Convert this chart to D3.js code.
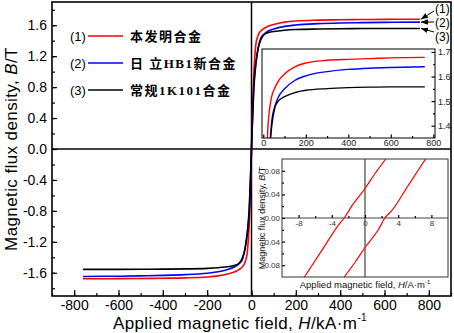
<!DOCTYPE html>
<meta charset="utf-8">
<style>
body { margin: 0; background: #fff; }
svg { display: block; font-family: Arial, "Liberation Sans", sans-serif; }
</style>
<svg width="454" height="333"></svg>
<script src="https://d3js.org/d3.v7.min.js"></script>
<script>

// applied field H (kA/m) and flux density B (T) of the three alloys
var field = [-760, -600, -500, -400, -300, -200, -150, -100, -70, -55, -40, -30, -20, -15, -10, -5,
             0, 5, 10, 15, 20, 30, 40, 55, 70, 100, 150, 200, 300, 400, 500, 600, 760];
var bInvention = [-1.678, -1.676, -1.673, -1.670, -1.666, -1.655, -1.64, -1.61, -1.58, -1.555, -1.52, -1.47, -1.36, -1.2, -0.95, -0.55,
                  0, 0.55, 0.95, 1.2, 1.36, 1.47, 1.52, 1.555, 1.58, 1.61, 1.64, 1.655, 1.666, 1.670, 1.673, 1.676, 1.678];
var bHitachi = [-1.647, -1.644, -1.64, -1.634, -1.624, -1.605, -1.587, -1.55, -1.515, -1.48, -1.42, -1.3, -1.1, -0.95, -0.75, -0.4,
                0, 0.4, 0.75, 0.95, 1.1, 1.3, 1.42, 1.48, 1.515, 1.55, 1.585, 1.603, 1.62, 1.629, 1.634, 1.637, 1.640];
var bConventional = [-1.556, -1.556, -1.555, -1.553, -1.55, -1.543, -1.534, -1.518, -1.50, -1.475, -1.40, -1.3, -1.12, -1.0, -0.8, -0.45,
                     0, 0.45, 0.8, 1.0, 1.12, 1.3, 1.40, 1.475, 1.50, 1.518, 1.535, 1.544, 1.551, 1.555, 1.557, 1.558, 1.558];

var legendNames = ["本发明合金", "日 立HB1新合金", "常规1K101合金"];
var legendTags = ["(1)", "(2)", "(3)"];
var colors = ["#ff0000", "#0000ff", "#000000"];

// hysteresis loop of alloy (1) near the origin, H in A/m
var loopUpH = [-7.3, -5.2, -3.2, -2.5, -1.6, 0, 1.2, 2.5];
var loopUpB = [-0.1, -0.055, -0.012, 0, 0.02, 0.05, 0.075, 0.1];
var loopDownH = [-2.5, -1.2, 0, 1.6, 2.4, 3.2, 5.2, 7.3];
var loopDownB = [-0.1, -0.075, -0.05, -0.02, 0, 0.012, 0.055, 0.1];

var mainXTicks = [-800, -600, -400, -200, 0, 200, 400, 600, 800];
var mainYTicks = [-1.6, -1.2, -0.8, -0.4, 0, 0.4, 0.8, 1.2, 1.6];
var inset1XTicks = [0, 200, 400, 600, 800];
var inset1YTicks = [1.4, 1.5, 1.6, 1.7];
var inset2XTicks = [-8, -4, 0, 4, 8];
var inset2YTicks = [-0.08, -0.04, 0, 0.04, 0.08];

var svg = d3.select("svg");
var allB = [bInvention, bHitachi, bConventional];
var series = allB.map(function(b) {
  return field.map(function(h, i) { return [h, b[i]]; });
});

// ---- main plot ----
var x = d3.scaleLinear().domain([-900, 900]).range([52, 451]);
var y = d3.scaleLinear().domain([-1.9, 1.9]).range([296, 2]);

svg.append("clipPath").attr("id", "clipMain")
  .append("rect").attr("x", 52).attr("y", 2).attr("width", 399).attr("height", 294);

var line = d3.line().x(function(d) { return x(d[0]); }).y(function(d) { return y(d[1]); })
    .curve(d3.curveMonotoneX);

svg.append("line").attr("x1", 52).attr("x2", 451).attr("y1", y(0)).attr("y2", y(0))
    .attr("stroke", "#000").attr("stroke-width", 1.5);
svg.append("line").attr("x1", x(0)).attr("x2", x(0)).attr("y1", 2).attr("y2", 296)
    .attr("stroke", "#000").attr("stroke-width", 1.5);

svg.append("g").attr("clip-path", "url(#clipMain)")
  .selectAll("path").data(series).enter().append("path")
    .attr("d", line)
    .attr("fill", "none")
    .attr("stroke", function(d, i) { return colors[i]; })
    .attr("stroke-width", 1.6);

function styleAxis(g) {
  g.select(".domain").remove();
  g.selectAll(".tick line").attr("stroke", "#000").attr("stroke-width", 1.2);
}

svg.append("g").attr("transform", "translate(0,296)")
    .call(d3.axisBottom(x).tickValues(d3.range(-900, 901, 100)).tickSize(-3).tickFormat(""))
    .call(styleAxis);
svg.append("g").attr("transform", "translate(0,296)")
    .call(d3.axisBottom(x).tickValues(mainXTicks).tickSize(-6).tickPadding(4)
      .tickFormat(function(d) { return String(d); }))
    .call(styleAxis)
    .selectAll("text").attr("font-size", 14).attr("fill", "#000");

svg.append("g").attr("transform", "translate(52,0)")
    .call(d3.axisLeft(y).tickValues(d3.range(-18, 19, 2).map(function(v) { return v / 10; })).tickSize(-3).tickFormat(""))
    .call(styleAxis);
svg.append("g").attr("transform", "translate(52,0)")
    .call(d3.axisLeft(y).tickValues(mainYTicks).tickSize(-5).tickPadding(5)
      .tickFormat(function(d) { return d.toFixed(1); }))
    .call(styleAxis)
    .selectAll("text").attr("font-size", 14).attr("fill", "#000");

svg.append("rect").attr("x", 52).attr("y", 2).attr("width", 399).attr("height", 294)
    .attr("fill", "none").attr("stroke", "#000").attr("stroke-width", 1.6);

var xTitle = svg.append("text").attr("x", 240).attr("y", 329).attr("text-anchor", "middle")
    .attr("font-size", 17).attr("letter-spacing", 0.4);
xTitle.append("tspan").text("Applied magnetic field, ");
xTitle.append("tspan").attr("font-style", "italic").text("H");
xTitle.append("tspan").text("/kA·m");
xTitle.append("tspan").attr("font-size", 10).attr("dy", -8).text("-1");

var yTitle = svg.append("text").attr("transform", "translate(17,149) rotate(-90)")
    .attr("text-anchor", "middle").attr("font-size", 17).attr("letter-spacing", 0.4);
yTitle.append("tspan").text("Magnetic flux density, ");
yTitle.append("tspan").attr("font-style", "italic").text("B");
yTitle.append("tspan").text("/T");

// legend
var legend = svg.append("g");
legendNames.forEach(function(name, i) {
  var ly = 36 + i * 27;
  legend.append("text").attr("x", 70).attr("y", ly + 5).attr("font-size", 13).text(legendTags[i]);
  legend.append("line").attr("x1", 88).attr("x2", 123).attr("y1", ly).attr("y2", ly)
      .attr("stroke", colors[i]).attr("stroke-width", 1.6);
  legend.append("text").attr("x", 130).attr("y", ly + 5)
      .attr("font-family", "'Liberation Serif', 'Noto Sans CJK SC', serif")
      .attr("font-weight", "bold").attr("font-size", 13).attr("letter-spacing", 1.5)
      .text(name);
});

// arrows to the curve ends
svg.append("defs").append("marker").attr("id", "arrowHead")
    .attr("viewBox", "0 0 10 10").attr("refX", 10).attr("refY", 5)
    .attr("markerWidth", 7).attr("markerHeight", 7).attr("orient", "auto")
  .append("path").attr("d", "M0,1L10,5L0,9Z").attr("fill", "#000");
var tagY = [8, 22, 36];
allB.forEach(function(b, i) {
  var ex = x(field[field.length - 1]) + 1, ey = y(b[b.length - 1]);
  svg.append("line").attr("x1", 434).attr("y1", tagY[i] + (i === 0 ? 3 : i === 2 ? -4 : 0))
      .attr("x2", ex).attr("y2", ey)
      .attr("stroke", "#000").attr("stroke-width", 1).attr("marker-end", "url(#arrowHead)");
  svg.append("text").attr("x", 435).attr("y", tagY[i] + 4.5).attr("font-size", 12).text(legendTags[i]);
});

// ---- inset 1: saturation region ----
var x1 = d3.scaleLinear().domain([-6, 808]).range([262, 435]);
var y1 = d3.scaleLinear().domain([1.35, 1.712]).range([138, 49]);
svg.append("clipPath").attr("id", "clipIn1")
  .append("rect").attr("x", 262).attr("y", 49).attr("width", 173).attr("height", 89);
svg.append("rect").attr("x", 262).attr("y", 49).attr("width", 173).attr("height", 89).attr("fill", "#fff");
var line1 = d3.line().x(function(d) { return x1(d[0]); }).y(function(d) { return y1(d[1]); })
    .curve(d3.curveMonotoneX);
svg.append("g").attr("clip-path", "url(#clipIn1)")
  .selectAll("path").data(series.map(function(s) { return s.filter(function(d) { return d[0] >= 0; }); }))
  .enter().append("path")
    .attr("d", line1).attr("fill", "none")
    .attr("stroke", function(d, i) { return colors[i]; }).attr("stroke-width", 1.4);
svg.append("g").attr("transform", "translate(0,138)")
    .call(d3.axisBottom(x1).tickValues(d3.range(100, 800, 200)).tickSize(-2).tickFormat(""))
    .call(styleAxis);
svg.append("g").attr("transform", "translate(0,138)")
    .call(d3.axisBottom(x1).tickValues(inset1XTicks).tickSize(-3.5).tickPadding(2)
      .tickFormat(function(d) { return String(d); }))
    .call(styleAxis)
    .selectAll("text").attr("font-size", 9).attr("fill", "#222");
svg.append("g").attr("transform", "translate(435,0)")
    .call(d3.axisRight(y1).tickValues([1.45, 1.55, 1.65]).tickSize(-2).tickFormat(""))
    .call(styleAxis);
svg.append("g").attr("transform", "translate(435,0)")
    .call(d3.axisRight(y1).tickValues(inset1YTicks).tickSize(-3.5).tickPadding(3)
      .tickFormat(function(d) { return d.toFixed(1); }))
    .call(styleAxis)
    .selectAll("text").attr("font-size", 9).attr("fill", "#222");
svg.append("rect").attr("x", 262).attr("y", 49).attr("width", 173).attr("height", 89)
    .attr("fill", "none").attr("stroke", "#000").attr("stroke-width", 1);

// ---- inset 2: loop near origin ----
var x2 = d3.scaleLinear().domain([-10, 10]).range([282, 448]);
var y2 = d3.scaleLinear().domain([-0.1, 0.1]).range([277, 159]);
svg.append("clipPath").attr("id", "clipIn2")
  .append("rect").attr("x", 282).attr("y", 159).attr("width", 166).attr("height", 118);
svg.append("rect").attr("x", 282).attr("y", 159).attr("width", 166).attr("height", 118).attr("fill", "#fff");
svg.append("line").attr("x1", 282).attr("x2", 448).attr("y1", y2(0)).attr("y2", y2(0))
    .attr("stroke", "#444").attr("stroke-width", 1.2);
svg.append("line").attr("x1", x2(0)).attr("x2", x2(0)).attr("y1", 159).attr("y2", 277)
    .attr("stroke", "#444").attr("stroke-width", 1.2);
var loops = [
  loopUpH.map(function(h, i) { return [h, loopUpB[i]]; }),
  loopDownH.map(function(h, i) { return [h, loopDownB[i]]; })
];
var line2 = d3.line().x(function(d) { return x2(d[0]); }).y(function(d) { return y2(d[1]); })
    .curve(d3.curveMonotoneX);
svg.append("g").attr("clip-path", "url(#clipIn2)")
  .selectAll("path").data(loops).enter().append("path")
    .attr("d", line2).attr("fill", "none").attr("stroke", "#ff0000").attr("stroke-width", 1.2);
svg.append("g").attr("transform", "translate(0," + y2(0) + ")")
    .call(d3.axisBottom(x2).tickValues([-6, -2, 2, 6]).tickSize(-2).tickFormat(""))
    .call(styleAxis);
svg.append("g").attr("transform", "translate(0," + y2(0) + ")")
    .call(d3.axisBottom(x2).tickValues(inset2XTicks).tickSize(-3).tickPadding(2)
      .tickFormat(function(d) { return String(d); }))
    .call(styleAxis)
    .selectAll("text").attr("font-size", 8).attr("fill", "#333");
svg.append("g").attr("transform", "translate(282,0)")
    .call(d3.axisLeft(y2).tickValues([-0.06, -0.02, 0.02, 0.06]).tickSize(-2).tickFormat(""))
    .call(styleAxis);
svg.append("g").attr("transform", "translate(282,0)")
    .call(d3.axisLeft(y2).tickValues(inset2YTicks).tickSize(-3).tickPadding(2)
      .tickFormat(function(d) { return d.toFixed(2); }))
    .call(styleAxis)
    .selectAll("text").attr("font-size", 8).attr("fill", "#333");
svg.append("rect").attr("x", 282).attr("y", 159).attr("width", 166).attr("height", 118)
    .attr("fill", "none").attr("stroke", "#333").attr("stroke-width", 1);

var x2Title = svg.append("text").attr("x", 365).attr("y", 288).attr("text-anchor", "middle")
    .attr("font-size", 9.5).attr("fill", "#111");
x2Title.append("tspan").text("Applied magnetic field, ");
x2Title.append("tspan").attr("font-style", "italic").text("H");
x2Title.append("tspan").text("/A·m");
x2Title.append("tspan").attr("font-size", 6).attr("dy", -4).text("-1");

var y2Title = svg.append("text").attr("transform", "translate(265,218) rotate(-90)")
    .attr("text-anchor", "middle").attr("font-size", 9).attr("fill", "#111");
y2Title.append("tspan").text("Magnetic flux density, ");
y2Title.append("tspan").attr("font-style", "italic").text("B");
y2Title.append("tspan").text("/T");

</script>
